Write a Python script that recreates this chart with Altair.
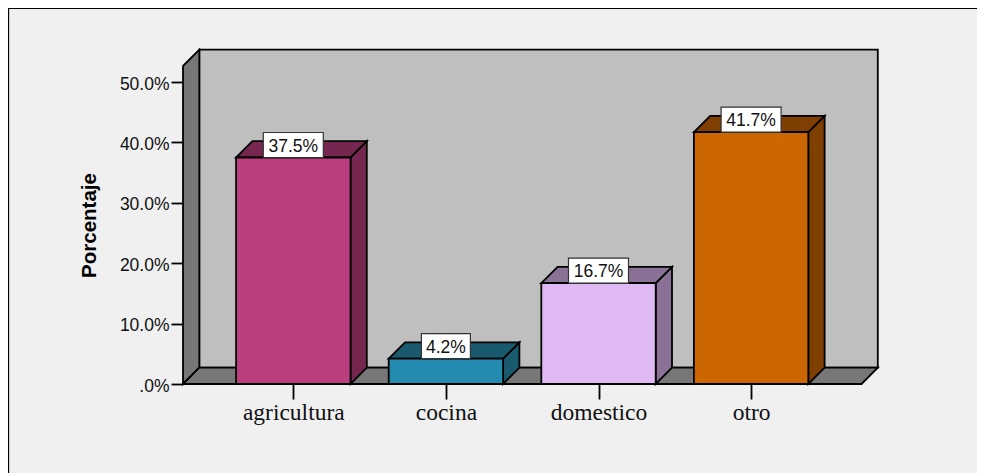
import altair as alt
import pandas as pd

categories = ["agricultura", "cocina", "domestico", "otro"]
percent = [37.5, 4.2, 16.7, 41.7]
front_colors = ["#bb3f7f", "#248bb0", "#dfb9f4", "#cc6600"]
side_colors = ["#75274f", "#1a5a6e", "#897296", "#7f3f00"]
y_ticks = [0, 10, 20, 30, 40, 50]

WALL = "#bfbfbf"
DARK_WALL = "#777777"
BACKGROUND = "#f0f0f0"
INK = "#000000"
LINE = 1.8
Y_TITLE = "Porcentaje"

# Pixel geometry of the plot area (relative to chart origin)
PLOT_W, PLOT_H = 678.5, 318
PAD = {"left": 175, "top": 58, "right": 115.5, "bottom": 89}
PX_PER_CAT = 152.6
PX_PER_PCT = 6.04
FIRST_CAT_PX = 110.3  # first category centre, from the plot's left edge

X_MIN = -FIRST_CAT_PX / PX_PER_CAT
X_MAX = (PLOT_W - FIRST_CAT_PX) / PX_PER_CAT
Y_MAX = PLOT_H / PX_PER_PCT
DX = 16.3 / PX_PER_CAT
DY = 16.3 / PX_PER_PCT
HALF_BAR = 57.2 / PX_PER_CAT

x_scale = alt.Scale(domain=[X_MIN, X_MAX], nice=False, zero=False)
y_scale = alt.Scale(domain=[0, Y_MAX], nice=False, zero=False)
X = alt.X("x:Q", scale=x_scale, title=None)
Y = alt.Y("y:Q", scale=y_scale, title=Y_TITLE, stack=None)


def parallelogram(left, right, level):
    """Receding horizontal face."""
    return [
        dict(x=left, y=level, y2=level),
        dict(x=left + DX, y=level + DY, y2=level),
        dict(x=right, y=level + DY, y2=level),
        dict(x=right + DX, y=level + DY, y2=level + DY),
    ]


def side_face(x0, low, high):
    """Receding vertical face."""
    return [
        dict(x=x0, y=high, y2=low),
        dict(x=x0 + DX, y=high + DY, y2=low + DY),
    ]


def area_layer(rows, fill):
    return alt.Chart(pd.DataFrame(rows)).mark_area(
        fill=fill, stroke=INK, strokeWidth=LINE, strokeJoin="miter", clip=False, opacity=1
    ).encode(x=X, y=Y, y2="y2:Q")


layers = []

# Axes
label_expr = "[" + ",".join(f"'{c}'" for c in categories) + "][datum.value]"
layers.append(
    alt.Chart(pd.DataFrame({"i": list(range(len(categories))), "p": percent})).mark_point(opacity=0).encode(
        x=alt.X(
            "i:Q", scale=x_scale, title=None,
            axis=alt.Axis(
                values=list(range(len(categories))), labelExpr=label_expr, domain=False, grid=False,
                tickSize=15, tickWidth=1.8, tickColor=INK, labelFont="Liberation Serif", labelFontSize=23.5,
                labelColor="#111111", labelPadding=1, labelFlush=False, labelOverlap=False,
            ),
        ),
        y=alt.Y(
            "p:Q", scale=y_scale, title=Y_TITLE,
            axis=alt.Axis(
                values=y_ticks,
                labelExpr="datum.value === 0 ? '.0%' : format(datum.value, '.1f') + '%'",
                domain=False, grid=False, tickSize=12, tickWidth=1.8, tickColor=INK,
                labelFont="Liberation Sans", labelFontSize=17.5, labelColor="#111111", labelPadding=2,
                labelOffset=2,
                titleFont="Liberation Sans", titleFontSize=20.5, titleFontWeight="bold", titleColor="#000000",
                titlePadding=20,
            ),
        ),
    )
)

# Chart frame
frame_color = "#000000"
layers.append(
    alt.Chart(pd.DataFrame({"k": [0]})).mark_rule(color=frame_color, strokeWidth=1.5).encode(
        x=alt.value(-PAD["left"] + 0.4), y=alt.value(-PAD["top"] + 0.2),
        y2=alt.value(PLOT_H + PAD["bottom"])
    )
)
layers.append(
    alt.Chart(pd.DataFrame({"k": [0]})).mark_rule(color=frame_color, strokeWidth=1.5).encode(
        y=alt.value(-PAD["top"] + 0.2), x=alt.value(-PAD["left"]),
        x2=alt.value(PLOT_W + PAD["right"])
    )
)

# Walls and floor
layers.append(
    alt.Chart(pd.DataFrame([dict(x=X_MIN + DX, x2=X_MAX + DX, y=DY, y2=Y_MAX + DY)]))
    .mark_rect(fill=WALL, stroke=INK, strokeWidth=LINE, clip=False)
    .encode(x=X, x2="x2:Q", y=Y, y2="y2:Q")
)
layers.append(area_layer(side_face(X_MIN, 0, Y_MAX), DARK_WALL))
layers.append(area_layer(parallelogram(X_MIN, X_MAX, 0), DARK_WALL))

# Bars
for i, value in enumerate(percent):
    left, right = i - HALF_BAR, i + HALF_BAR
    layers.append(area_layer(side_face(right, 0, value), side_colors[i]))
    layers.append(area_layer(parallelogram(left, right, value), side_colors[i]))
    layers.append(
        alt.Chart(pd.DataFrame([dict(x=left, x2=right, y=0, y2=value)]))
        .mark_rect(fill=front_colors[i], stroke=INK, strokeWidth=LINE, clip=False)
        .encode(x=X, x2="x2:Q", y=Y, y2="y2:Q")
    )

# Value labels
label_rows = []
for i, value in enumerate(percent):
    text = f"{value:.1f}%"
    half = (11 * len(text) + 5) / 2 / PX_PER_CAT
    label_rows.append(
        dict(x=i - half, x2=i + half, xc=i, y=value, y2=value + 25 / PX_PER_PCT,
             yc=value + 12.5 / PX_PER_PCT, text=text)
    )
labels = pd.DataFrame(label_rows)
layers.append(
    alt.Chart(labels).mark_rect(fill="#ffffff", stroke="#333333", strokeWidth=1.2, clip=False)
    .encode(x=X, x2="x2:Q", y=Y, y2="y2:Q")
)
layers.append(
    alt.Chart(labels).mark_text(font="Liberation Sans", fontSize=17.5, color="#111111", baseline="middle", dy=1.5, clip=False)
    .encode(
        x=alt.X("xc:Q", scale=x_scale, title=None),
        y=alt.Y("yc:Q", scale=y_scale, title=Y_TITLE),
        text="text:N",
    )
)

chart = (
    alt.layer(*layers)
    .properties(
        width=PLOT_W,
        height=PLOT_H,
        padding=PAD,
        autosize=alt.AutoSizeParams(type="none"),
        background=BACKGROUND,
    )
    .configure_view(stroke=None)
)

chart.save("out.html", embed_options={"renderer": "svg", "actions": False})
